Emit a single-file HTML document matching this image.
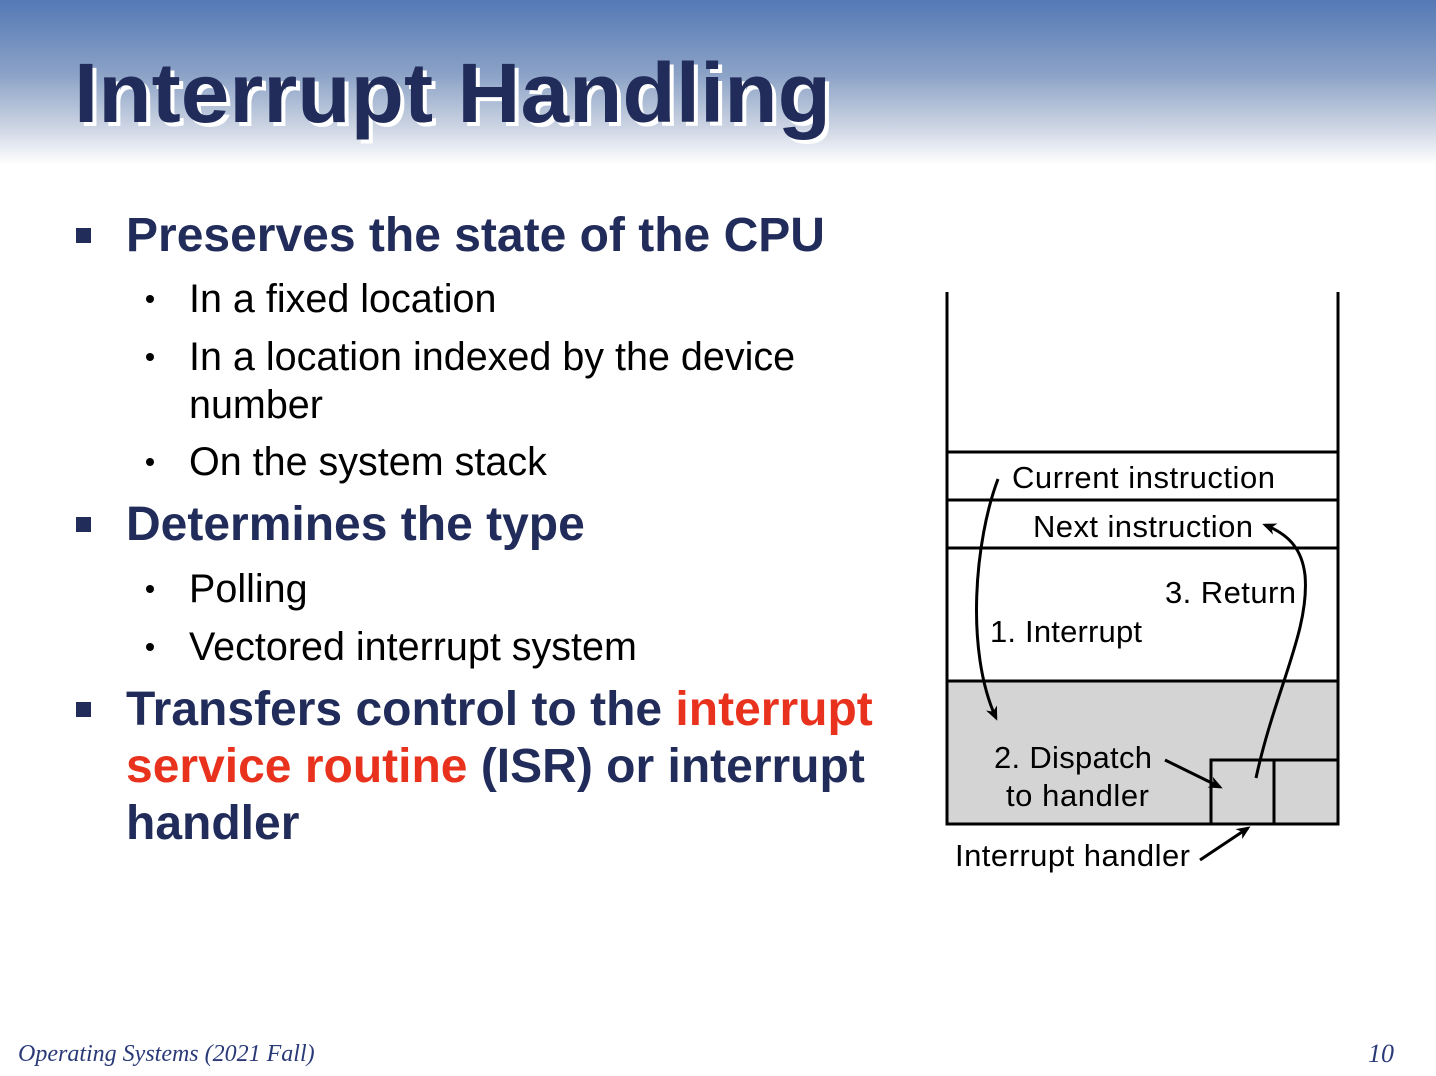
<!DOCTYPE html>
<html><head><meta charset="utf-8"><style>
body{margin:0;width:1436px;height:1076px;position:relative;background:#fff;overflow:hidden;font-family:"Liberation Sans",sans-serif}
.hdr{position:absolute;left:0;top:0;width:1436px;height:165px;background:linear-gradient(#5479b5,#8ba2c6 45%,#c8d1e1 75%,#fff)}
.t{position:absolute;white-space:nowrap}
.l1{font-weight:bold;font-size:48px;color:#212c5a}
.l2{font-size:39.5px;color:#000}
.sq{position:absolute;width:15px;height:15px;background:#212c5a}
.dot{position:absolute;width:8px;height:8px;border-radius:50%;background:#000}
.red{color:#e8321e}
</style></head><body>
<div class="hdr"></div>
<svg style="position:absolute;left:0;top:0" width="1436" height="170">
<text x="78" y="126" font-family="Liberation Sans" font-weight="bold" font-size="84" fill="#fff" textLength="757" lengthAdjust="spacingAndGlyphs">Interrupt Handling</text>
<text x="74" y="122" font-family="Liberation Sans" font-weight="bold" font-size="84" fill="#212c5a" textLength="757" lengthAdjust="spacingAndGlyphs">Interrupt Handling</text>
</svg>
<div class="sq" style="left:76px;top:228px"></div>
<div class="t l1" style="left:126px;top:208px">Preserves the state of the CPU</div>
<div class="dot" style="left:146px;top:295px"></div>
<div class="t l2" style="left:189px;top:277px">In a fixed location</div>
<div class="dot" style="left:146px;top:353px"></div>
<div class="t l2" style="left:189px;top:335px">In a location indexed by the device</div>
<div class="t l2" style="left:189px;top:383px">number</div>
<div class="dot" style="left:146px;top:458px"></div>
<div class="t l2" style="left:189px;top:440px">On the system stack</div>
<div class="sq" style="left:76px;top:517px"></div>
<div class="t l1" style="left:126px;top:497px">Determines the type</div>
<div class="dot" style="left:146px;top:585px"></div>
<div class="t l2" style="left:189px;top:567px">Polling</div>
<div class="dot" style="left:146px;top:643px"></div>
<div class="t l2" style="left:189px;top:625px">Vectored interrupt system</div>
<div class="sq" style="left:76px;top:702px"></div>
<div class="t l1" style="left:126px;top:682px">Transfers control to the <span class="red">interrupt</span></div>
<div class="t l1" style="left:126px;top:739px"><span class="red">service routine</span> (ISR) or interrupt</div>
<div class="t l1" style="left:126px;top:796px">handler</div>
<svg style="position:absolute;left:0;top:0" width="1436" height="1076">
<defs><marker id="a" markerWidth="14" markerHeight="12" refX="11" refY="6" orient="auto" markerUnits="userSpaceOnUse"><path d="M0,0 L14,6 L0,12 L4,6z" fill="#000"/></marker></defs>
<rect x="947" y="681" width="391" height="143" fill="#d4d4d4"/>
<g stroke="#000" stroke-width="3" fill="none">
<path d="M947,292 V824 H1338 V292"/>
<path d="M947,452 H1338 M947,500 H1338 M947,548 H1338 M947,681 H1338"/>
<path d="M1211,824 V760 H1338 M1274,760 V824"/>
</g>
<g stroke="#000" stroke-width="3" fill="none">
<path d="M998,479 C975,540 965,650 996,718" marker-end="url(#a)"/>
<path d="M1256,778 C1275,690 1310,630 1305,575 C1302,550 1290,535 1265,525" marker-end="url(#a)"/>
<path d="M1165,760 L1220,787" marker-end="url(#a)"/>
<path d="M1200,860 L1248,828" marker-end="url(#a)"/>
</g>
<g font-family="Liberation Sans" font-size="31" fill="#000" lengthAdjust="spacingAndGlyphs">
<text x="1012" y="488" textLength="263">Current instruction</text>
<text x="1033" y="537" textLength="220">Next instruction</text>
<text x="1165" y="603" textLength="131">3. Return</text>
<text x="990" y="642" textLength="152">1. Interrupt</text>
<text x="994" y="768" textLength="158">2. Dispatch</text>
<text x="1006" y="806" textLength="143">to handler</text>
<text x="955" y="866" textLength="235">Interrupt handler</text>
</g>
<text x="18" y="1061" font-family="Liberation Serif" font-style="italic" font-size="24" fill="#2a3a78">Operating Systems (2021 Fall)</text>
<text x="1368" y="1062" font-family="Liberation Serif" font-style="italic" font-size="26" fill="#2a3a78">10</text>
</svg>
</body></html>
